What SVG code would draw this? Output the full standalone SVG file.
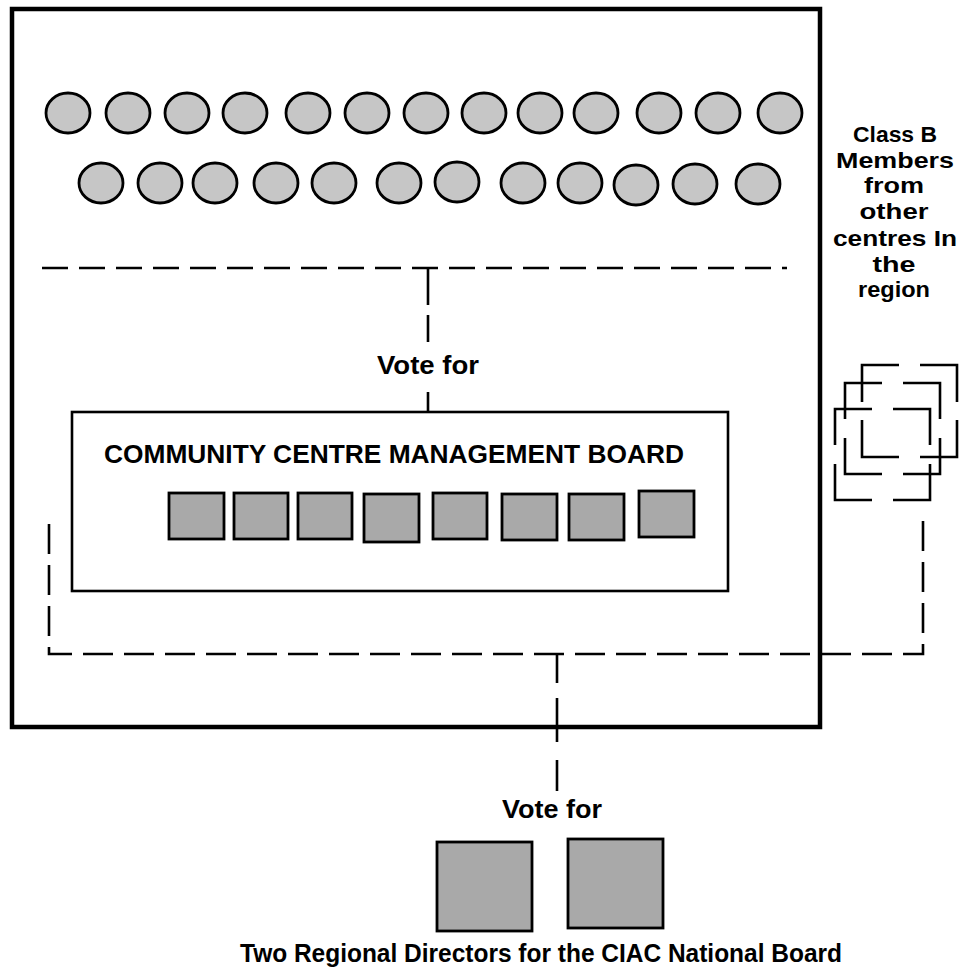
<svg xmlns="http://www.w3.org/2000/svg" width="961" height="980" viewBox="0 0 961 980">
<defs>
<style>
.lbl{font-family:"Liberation Sans",Arial,sans-serif;font-weight:bold;font-size:25px;fill:#000;text-anchor:middle}
.side{font-size:22.5px}
.mem{fill:#c6c6c6;stroke:#000;stroke-width:2.8}
.sq{fill:#a9a9a9;stroke:#000;stroke-width:2.8}
.dash{fill:none;stroke:#000;stroke-width:2.6;stroke-dasharray:26 11}
.seg{fill:none;stroke:#000;stroke-width:2.6}
</style>
</defs>
<rect width="961" height="980" fill="#fff"/>

<g id="centre-frame">
<rect x="12" y="9" width="808" height="718" fill="none" stroke="#000" stroke-width="4.5"/>
</g>

<g id="class-a-members">
<ellipse class="mem" cx="68" cy="113" rx="22" ry="20"/>
<ellipse class="mem" cx="128" cy="113" rx="22" ry="20"/>
<ellipse class="mem" cx="187" cy="113" rx="22" ry="20"/>
<ellipse class="mem" cx="245" cy="113" rx="22" ry="20"/>
<ellipse class="mem" cx="308" cy="113" rx="22" ry="20"/>
<ellipse class="mem" cx="367" cy="113" rx="22" ry="20"/>
<ellipse class="mem" cx="426" cy="113" rx="22" ry="20"/>
<ellipse class="mem" cx="484" cy="113" rx="22" ry="20"/>
<ellipse class="mem" cx="540" cy="113" rx="22" ry="20"/>
<ellipse class="mem" cx="596" cy="113" rx="22" ry="20"/>
<ellipse class="mem" cx="659" cy="113" rx="22" ry="20"/>
<ellipse class="mem" cx="718" cy="113" rx="22" ry="20"/>
<ellipse class="mem" cx="780" cy="113" rx="22" ry="20"/>
<ellipse class="mem" cx="101" cy="183" rx="22" ry="20"/>
<ellipse class="mem" cx="160" cy="183" rx="22" ry="20"/>
<ellipse class="mem" cx="215" cy="183" rx="22" ry="20"/>
<ellipse class="mem" cx="276" cy="183" rx="22" ry="20"/>
<ellipse class="mem" cx="334" cy="183" rx="22" ry="20"/>
<ellipse class="mem" cx="399" cy="183" rx="22" ry="20"/>
<ellipse class="mem" cx="457" cy="182" rx="22" ry="20"/>
<ellipse class="mem" cx="523" cy="183" rx="22" ry="20"/>
<ellipse class="mem" cx="580" cy="183" rx="22" ry="20"/>
<ellipse class="mem" cx="636" cy="185" rx="22" ry="20"/>
<ellipse class="mem" cx="695" cy="184" rx="22" ry="20"/>
<ellipse class="mem" cx="758" cy="184" rx="22" ry="20"/>
</g>

<g id="management-board">
<rect x="72" y="412" width="656" height="179" fill="none" stroke="#000" stroke-width="2.6"/>
<text class="lbl" x="394" y="463" textLength="580" lengthAdjust="spacingAndGlyphs">COMMUNITY CENTRE MANAGEMENT BOARD</text>
<rect class="sq" x="169" y="493" width="55" height="46"/>
<rect class="sq" x="234" y="493" width="54" height="46"/>
<rect class="sq" x="298" y="493" width="54" height="46"/>
<rect class="sq" x="364" y="494" width="55" height="48"/>
<rect class="sq" x="433" y="493" width="54" height="46"/>
<rect class="sq" x="502" y="494" width="55" height="46"/>
<rect class="sq" x="569" y="494" width="55" height="46"/>
<rect class="sq" x="639" y="491" width="55" height="46"/>
</g>

<g id="class-b-members">
<text class="lbl side" x="895" y="142" textLength="84" lengthAdjust="spacingAndGlyphs">Class B</text>
<text class="lbl side" x="895" y="168" textLength="118" lengthAdjust="spacingAndGlyphs">Members</text>
<text class="lbl side" x="894" y="193" textLength="60" lengthAdjust="spacingAndGlyphs">from</text>
<text class="lbl side" x="894" y="219" textLength="69" lengthAdjust="spacingAndGlyphs">other</text>
<text class="lbl side" x="895" y="246" textLength="124" lengthAdjust="spacingAndGlyphs">centres In</text>
<text class="lbl side" x="894" y="272" textLength="43" lengthAdjust="spacingAndGlyphs">the</text>
<text class="lbl side" x="894" y="297" textLength="72" lengthAdjust="spacingAndGlyphs">region</text>
<path class="seg" d="M862,402 V365 H899 M920,365 H957 V402 M957,420 V457 H920 M899,457 H862 V420"/>
<path class="seg" d="M845,419 V383 H882 M903,383 H940 V419 M940,438 V474 H903 M882,474 H845 V438"/>
<path class="seg" d="M835,445 V409 H872 M893,409 H930 V445 M930,464 V500 H893 M872,500 H835 V464"/>
</g>

<g id="regional-directors">
<rect class="sq" x="437" y="842" width="95" height="89"/>
<rect class="sq" x="568" y="839" width="95" height="89"/>
<text class="lbl" x="541" y="962" textLength="602" lengthAdjust="spacingAndGlyphs">Two Regional Directors for the CIAC National Board</text>
</g>

<g id="connectors">
<path class="dash" d="M42,268 H787"/>
<path class="seg" d="M428,268 V305 M428,315 V342 M428,392 V411"/>
<text class="lbl" x="428" y="374" textLength="102" lengthAdjust="spacingAndGlyphs">Vote for</text>
<path class="dash" d="M49,524 V654 H923 V510" style="stroke-dasharray:30 11"/>
<path class="seg" d="M557,654 V683 M557,698 V742 M557,760 V791"/>
<text class="lbl" x="552" y="818" textLength="100" lengthAdjust="spacingAndGlyphs">Vote for</text>
</g>
</svg>
